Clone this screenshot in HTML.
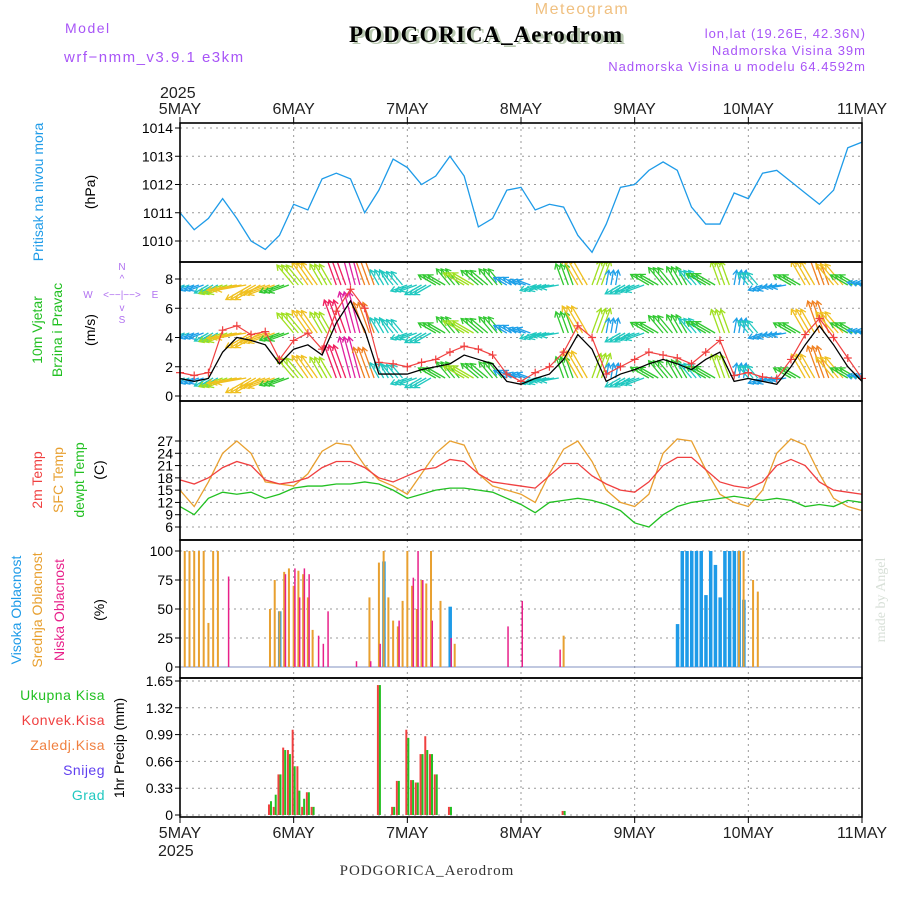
<!DOCTYPE html>
<html><head><meta charset="utf-8"><style>
html,body{margin:0;padding:0;background:#fff;}
svg{display:block;font-family:"Liberation Sans",sans-serif;}
</style></head><body>
<svg id="c" width="900" height="900" xmlns="http://www.w3.org/2000/svg">
<text x="65" y="33" font-size="14" fill="#a855f7" letter-spacing="1.5">Model</text>
<text x="64" y="62" font-size="15" fill="#a855f7" letter-spacing="1.5">wrf−nmm_v3.9.1 e3km</text>
<text x="582" y="14" font-size="16" fill="#f0c080" text-anchor="middle" letter-spacing="1.5">Meteogram</text>
<text x="489" y="44" font-size="23" font-weight="bold" font-family="Liberation Serif,serif" fill="#b8c8b0" text-anchor="middle" letter-spacing="1">PODGORICA_Aerodrom</text>
<text x="486" y="42" font-size="23" font-weight="bold" font-family="Liberation Serif,serif" fill="#000" text-anchor="middle" letter-spacing="1">PODGORICA_Aerodrom</text>
<text x="866" y="38" font-size="13" fill="#a855f7" text-anchor="end" letter-spacing="1">lon,lat (19.26E, 42.36N)</text>
<text x="866" y="55" font-size="13" fill="#a855f7" text-anchor="end" letter-spacing="1">Nadmorska Visina 39m</text>
<text x="866" y="71" font-size="13" fill="#a855f7" text-anchor="end" letter-spacing="1">Nadmorska Visina u modelu 64.4592m</text>
<text x="160" y="98" font-size="16" fill="#222">2025</text>
<text x="158" y="856" font-size="16" fill="#222">2025</text>
<text x="427" y="875" font-size="15" font-family="Liberation Serif,serif" fill="#333" text-anchor="middle" letter-spacing="1">PODGORICA_Aerodrom</text>
<text transform="translate(885,600) rotate(-90)" font-size="14" font-family="Liberation Serif,serif" fill="#d8e0d8" text-anchor="middle">made by Angel</text>
<g font-size="14">
<text transform="translate(43,192) rotate(-90)" fill="#1e9be8" text-anchor="middle">Pritisak na nivou mora</text>
<text transform="translate(95,192) rotate(-90)" fill="#000" text-anchor="middle">(hPa)</text>
<text transform="translate(42,330) rotate(-90)" fill="#22c022" text-anchor="middle">10m Vjetar</text>
<text transform="translate(62,330) rotate(-90)" fill="#22c022" text-anchor="middle">Brzina i Pravac</text>
<text transform="translate(95,330) rotate(-90)" fill="#000" text-anchor="middle">(m/s)</text>
<text transform="translate(42,480) rotate(-90)" fill="#f04040" text-anchor="middle">2m Temp</text>
<text transform="translate(63,480) rotate(-90)" fill="#e8a030" text-anchor="middle">SFC Temp</text>
<text transform="translate(84,480) rotate(-90)" fill="#22c022" text-anchor="middle">dewpt Temp</text>
<text transform="translate(104,470) rotate(-90)" fill="#000" text-anchor="middle">(C)</text>
<text transform="translate(21,610) rotate(-90)" fill="#1e9be8" text-anchor="middle">Visoka Oblacnost</text>
<text transform="translate(42,610) rotate(-90)" fill="#e8a030" text-anchor="middle">Srednja Oblacnost</text>
<text transform="translate(64,610) rotate(-90)" fill="#e8208a" text-anchor="middle">Niska Oblacnost</text>
<text transform="translate(104,610) rotate(-90)" fill="#000" text-anchor="middle">(%)</text>
<text x="105" y="700" fill="#22c022" text-anchor="end" letter-spacing="0.5">Ukupna Kisa</text>
<text x="105" y="725" fill="#f04040" text-anchor="end" letter-spacing="0.5">Konvek.Kisa</text>
<text x="105" y="750" fill="#f08040" text-anchor="end" letter-spacing="0.5">Zaledj.Kisa</text>
<text x="105" y="775" fill="#6040f0" text-anchor="end" letter-spacing="0.5">Snijeg</text>
<text x="105" y="800" fill="#20c8c0" text-anchor="end" letter-spacing="0.5">Grad</text>
<text transform="translate(124,748) rotate(-90)" fill="#000" text-anchor="middle">1hr Precip (mm)</text>
</g>
<g fill="#b070f0" font-size="10">
<text x="122" y="270" text-anchor="middle">N</text>
<text x="122" y="282" text-anchor="middle">^</text>
<text x="122" y="298" text-anchor="middle">&lt;−−|−−&gt;</text>
<text x="88" y="298" text-anchor="middle">W</text>
<text x="155" y="298" text-anchor="middle">E</text>
<text x="122" y="311" text-anchor="middle">v</text>
<text x="122" y="323" text-anchor="middle">S</text>
</g>
</svg>
<script>
// ---- data ----
const dayLabels = ["5MAY","6MAY","7MAY","8MAY","9MAY","10MAY","11MAY"];
const hours3 = [0,3,6,9,12,15,18,21,24,27,30,33,36,39,42,45,48,51,54,57,60,63,66,69,72,75,78,81,84,87,90,93,96,99,102,105,108,111,114,117,120,123,126,129,132,135,138,141,144];
const pressure = [1011.0,1010.4,1010.8,1011.5,1010.8,1010.0,1009.7,1010.2,1011.3,1011.1,1012.2,1012.4,1012.2,1011.0,1011.8,1012.9,1012.6,1012.0,1012.3,1013.0,1012.3,1010.5,1010.8,1011.8,1011.9,1011.1,1011.3,1011.2,1010.2,1009.6,1010.6,1011.9,1012.0,1012.5,1012.8,1012.5,1011.2,1010.6,1010.6,1011.7,1011.5,1012.4,1012.5,1012.1,1011.7,1011.3,1011.8,1013.3,1013.5];
const pressureTicks = [1010,1011,1012,1013,1014];
const windSpeed = [1.2,1.0,1.2,3.0,4.0,3.8,3.5,2.2,3.2,3.5,2.8,5.0,6.5,4.5,1.5,1.5,1.5,1.8,2.0,2.2,2.8,2.5,2.2,1.0,0.8,1.2,1.5,2.5,4.2,3.2,1.0,1.5,1.8,2.2,2.5,2.2,1.8,2.5,3.0,1.0,1.2,1.0,0.8,2.0,3.5,4.8,3.5,2.0,1.0];
const windGust = [1.6,1.4,1.6,4.5,4.8,4.2,4.4,2.5,3.8,4.3,3.2,5.8,7.3,6.0,2.3,2.2,2.0,2.3,2.5,3.0,3.4,3.2,2.8,1.5,1.0,1.6,2.0,3.0,4.8,4.0,1.5,2.0,2.5,3.0,2.8,2.6,2.2,3.0,3.8,1.4,1.6,1.3,1.2,2.5,4.2,5.3,4.0,2.6,1.2];
const windDir = [250,250,240,250,260,240,250,250,320,325,330,340,345,340,330,320,250,240,300,320,300,310,320,300,290,250,260,340,330,20,10,240,250,300,320,330,320,300,340,10,320,250,260,300,330,340,320,300,280];
const windTicks = [0,2,4,6,8];
const temp2m = [17.5,16.5,18,20.5,22,21,17.5,16.5,17,18,20.5,22,22,20.5,18,17,18.5,20,20.5,22.5,22,19,17,16.5,16,15.5,18.5,21.5,21.5,18.5,16.5,15,14.5,17,21,23,23,20,17,16,15.5,17,21,22.5,21,17,15,14.5,14];
const tempSfc = [15,11,17,24,27,24,17,16.5,16,19,24.5,26.5,26,21,17.5,16,14,19,24,27,26,19,16,15,14,12,19,25,27,22,15,12,11,14,24,27.5,27,20,14,12,11,15,24,27.5,26,19,13,11,10];
const dewpt = [11,9,13,14.5,14,14.5,13,14,15.5,16,16,16.5,16.5,17,16.5,15,13,14,15,15.5,15.5,15,14.5,13,11.5,9.5,12,12.5,13,12.5,11.5,10,7,6,9,11,12,12.5,13,13.5,13,12.5,13,12.5,11,11.5,11,12.5,12];
const tempTicks = [6,9,12,15,18,21,24,27];
const midCloudH = [1,2,3,4,5,6,7,8,19,20,21,22,23,24,25,26,27,28,40,42,43,44,45,46,47,48,49,50,51,52,53,55,58,81,118,119,121,122];
const midCloudV = [100,100,100,100,100,38,100,100,50,75,48,82,85,70,83,80,60,32,60,90,100,60,40,35,57,100,70,50,75,72,100,57,20,27,100,100,75,65];
const highCloudH = [21,43,57,105,106,107,108,109,110,111,112,113,114,115,116,117,118,119];
const highCloudV = [48,91,52,37,100,100,100,100,100,62,100,88,60,100,100,100,100,58];
const lowCloudH = [10,22,24,25,26,27,29,30,31,37,40,42,46,49,50,51,53,57,69,72,80];
const lowCloudV = [78,80,85,60,85,80,27,20,48,5,5,20,40,77,100,75,40,25,35,57,15];
const cloudTicks = [0,25,50,75,100];
const precipH = [19,20,21,22,23,24,25,26,27,28,42,45,46,48,49,50,51,52,53,54,57,81];
const precipTotal = [0.17,0.25,0.5,0.8,0.75,0.6,0.3,0.2,0.28,0.1,1.6,0.1,0.42,0.95,0.43,0.4,0.75,0.8,0.75,0.5,0.1,0.05];
const precipConv = [0.13,0.1,0.5,0.83,0.8,1.05,0.6,0.1,0.28,0.1,1.6,0.1,0.42,1.05,0.43,0.4,0.75,0.97,0.75,0.5,0.1,0.05];
const precipTicks = ["0","0.33","0.66","0.99","1.32","1.65"];

// ---- layout ----
const NS="http://www.w3.org/2000/svg", svg=document.getElementById('c');
const X0=180,X1=862,H=144;
const xs=h=>X0+(X1-X0)*h/H;
const panels=[{t:123,b:262},{t:262,b:401},{t:401,b:540},{t:540,b:678},{t:678,b:817}];
function el(tag,at,parent){const e=document.createElementNS(NS,tag);for(const k in at)e.setAttribute(k,at[k]);(parent||svg).appendChild(e);return e;}
function lin(v0,y0,v1,y1){return v=>y0+(v-v0)*(y1-y0)/(v1-v0);}
const yP=lin(1010,241,1014,128), yW=lin(0,396,8,279), yT=lin(6,527,27,441), yC=lin(0,667,100,551), yR=lin(0,815,1.65,681);

// grids
function grid(p,ys,ticks,lbl){
  const g=el('g',{});
  
  
  for(let d=1;d<6;d++){const x=xs(d*24);el('line',{x1:x,x2:x,y1:p.t,y2:p.b,stroke:'#999','stroke-dasharray':'2,4'},g);}
  ticks.forEach((t,i)=>{const y=ys(+t);
    el('line',{x1:X0,x2:X1,y1:y,y2:y,stroke:'#999','stroke-dasharray':'2,4'},g);
    el('line',{x1:X0-5,x2:X0,y1:y,y2:y,stroke:'#000'},g);
    const tx=el('text',{x:X0-7,y:y+5,'font-size':14,'text-anchor':'end',fill:'#000'},g);
    tx.textContent=lbl?lbl[i]:t;
    
    
  });
}
grid(panels[0],yP,pressureTicks);
grid(panels[1],yW,windTicks);
grid(panels[2],yT,tempTicks);
grid(panels[3],yC,cloudTicks);
grid(panels[4],yR,precipTicks.map(Number),precipTicks);

// day ticks/labels
dayLabels.forEach((d,i)=>{const x=xs(i*24);
  el('line',{x1:x,x2:x,y1:117,y2:123,stroke:'#000'});
  el('line',{x1:x,x2:x,y1:817,y2:823,stroke:'#000'});
  const a=el('text',{x:x,y:114,'font-size':16,'text-anchor':'middle',fill:'#222'});a.textContent=d;
  
  
  const b=el('text',{x:x,y:838,'font-size':16,'text-anchor':'middle',fill:'#222'});b.textContent=d;
  
  
});

function line(arr,ys,col,name,w){const pts=arr.map((v,i)=>xs(hours3[i])+','+ys(v)).join(' ');
  const p=el('polyline',{points:pts,fill:'none',stroke:col,'stroke-width':w||1.3});
  
  return p;}

// pressure
line(pressure,yP,'#1e9be8','pressure-line');

// wind arrows (each 3-hourly value drawn as a small cluster of arrows)
const clip=el('clipPath',{id:'wc'});el('rect',{x:X0,y:262,width:X1-X0,height:139},clip);
const wg=el('g',{'clip-path':'url(#wc)'});


const spdCols=['#3050f0','#1ea0e8','#20c8c0','#30c830','#a0e020','#f0c020','#f08020','#f02060','#e020a0'];
[285,333,378].forEach(base=>{
  hours3.forEach((h,i)=>{
    const s=windSpeed[i],a=windDir[i]*Math.PI/180,L=10+s*5;
    const col=spdCols[Math.min(8,Math.round(s*1.3))];
    [0,1,2].forEach(k=>{
      const x=xs(h)+k*4.7,dx=Math.sin(a)*L,dy=-Math.cos(a)*L;
      const ln=el('line',{x1:x,y1:base,x2:x+dx,y2:base+dy,stroke:col,'stroke-width':1.3},wg);
      
      
      const ux=dx/L,uy=dy/L,hx=x+dx,hy=base+dy;
      el('polyline',{points:`${hx-ux*5-uy*3},${hy-uy*5+ux*3} ${hx},${hy} ${hx-ux*5+uy*3},${hy-uy*5-ux*3}`,fill:'none',stroke:col,'stroke-width':1.3},wg);
    });
  });
});
line(windGust,yW,'#f04040','wind-gust-line',1.2);
windGust.forEach((v,i)=>{const x=xs(hours3[i]),y=yW(v);
  const m=el('path',{d:`M${x-4},${y}H${x+4}M${x},${y-4}V${y+4}`,stroke:'#f04040','stroke-width':1.2});
  
  });
line(windSpeed,yW,'#000','wind-speed-line',1.3);

// temps
line(tempSfc,yT,'#e8a030','sfc-temp-line');
line(temp2m,yT,'#f04040','t2m-line');
line(dewpt,yT,'#22c022','dewpt-line');

// clouds
el('line',{x1:X0,x2:X1,y1:yC(0),y2:yC(0),stroke:'#8090c0','stroke-width':1});
function bars(H_,V,ys,col,off,w,name){H_.forEach((h,i)=>{const x=xs(h)+off,y=ys(V[i]),y0=ys(0);
  const r=el('rect',{x:x,y:y,width:w,height:Math.max(0,y0-y),fill:col});
  
  });}
bars(highCloudH,highCloudV,yC,'#1e9be8',-1.5,3.5,'high-cloud-bar');
bars(midCloudH,midCloudV,yC,'#e8a030',-1,2,'mid-cloud-bar');
bars(lowCloudH,lowCloudV,yC,'#e8208a',0.5,1.5,'low-cloud-bar');

// precip
bars(precipH,precipConv,yR,'#f04040',-2,2,'convective-precip-bar');
bars(precipH,precipTotal,yR,'#22c022',0,2,'total-precip-bar');

// panel frames
panels.forEach((p,i)=>{const r=el('rect',{x:X0,y:p.t,width:X1-X0,height:p.b-p.t,fill:'none',stroke:'#000','stroke-width':1.6});
  
  });
</script>
</body></html>
